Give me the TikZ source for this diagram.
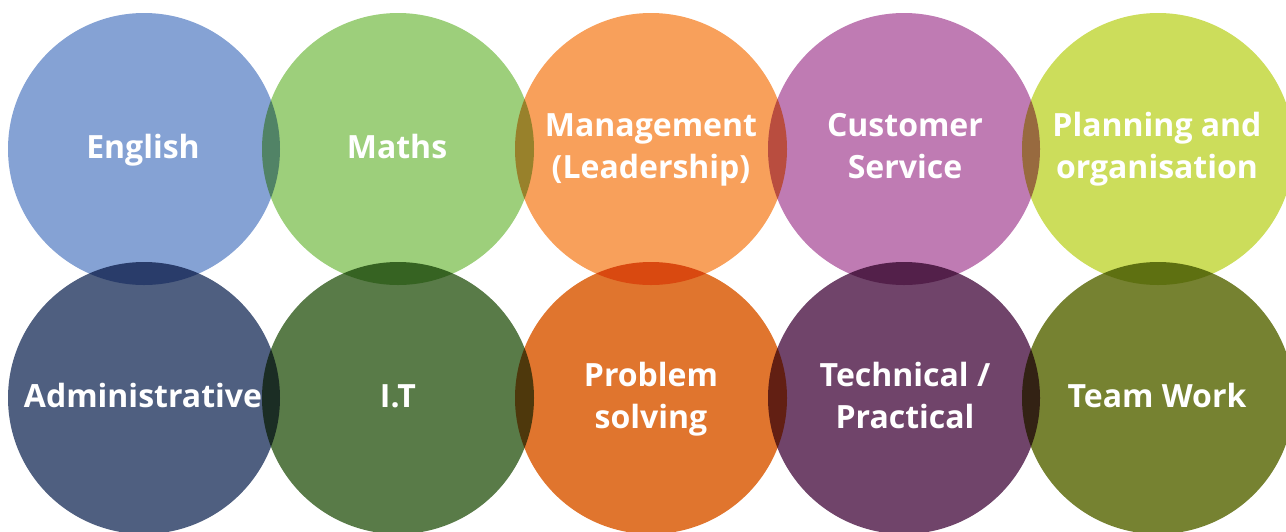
\documentclass[tikz,border=0pt]{standalone}
\usepackage{fontspec}
\setmainfont{Open Sans}
\definecolor{cEng}{HTML}{85A2D4}
\definecolor{cMat}{HTML}{9DCF7B}
\definecolor{cMan}{HTML}{F8A05B}
\definecolor{cCus}{HTML}{BF7BB3}
\definecolor{cPla}{HTML}{CCDD5B}
\definecolor{cAdm}{HTML}{4F5F80}
\definecolor{cIT}{HTML}{597B48}
\definecolor{cPro}{HTML}{E0752E}
\definecolor{cTec}{HTML}{70446A}
\definecolor{cTea}{HTML}{768231}
\tikzset{
  blob/.style={circle, minimum size=272pt, inner sep=0pt, fill=#1},
  lab/.style={anchor=base, text=white, align=center, font=\fontsize{32}{42}\selectfont\bfseries}
}
\begin{document}
\begin{tikzpicture}[x=1pt,y=-1pt]
\useasboundingbox (0,0) rectangle (1286,531);
\clip (0,0) rectangle (1286,531);
\begin{scope}[blend mode=multiply]
\node[blob=cEng] (eng) at (144,149) {};
\node[blob=cMat] (mat) at (398,149) {};
\node[blob=cMan] (man) at (651,149) {};
\node[blob=cCus] (cus) at (904,149) {};
\node[blob=cPla] (pla) at (1158,149) {};
\node[blob=cAdm] (adm) at (144,398) {};
\node[blob=cIT]  (it)  at (398,398) {};
\node[blob=cPro] (pro) at (651,398) {};
\node[blob=cTec] (tec) at (904,398) {};
\node[blob=cTea] (tea) at (1158,398) {};
\end{scope}
\node[lab] (tEng) at (143,158) {English};
\node[lab] (tMat) at (397,158) {Maths};
\node[lab] (tMan) at (651,178) {Management\\(Leadership)};
\node[lab] (tCus) at (905,178) {Customer\\Service};
\node[lab] (tPla) at (1157,178) {Planning and\\organisation};
\node[lab] (tAdm) at (143,407) {Administrative};
\node[lab] (tIT)  at (398,407) {I.T};
\node[lab] (tPro) at (651,428) {Problem\\solving};
\node[lab] (tTec) at (905,428) {Technical /\\Practical};
\node[lab] (tTea) at (1157,407) {Team Work};
\end{tikzpicture}
\end{document}
